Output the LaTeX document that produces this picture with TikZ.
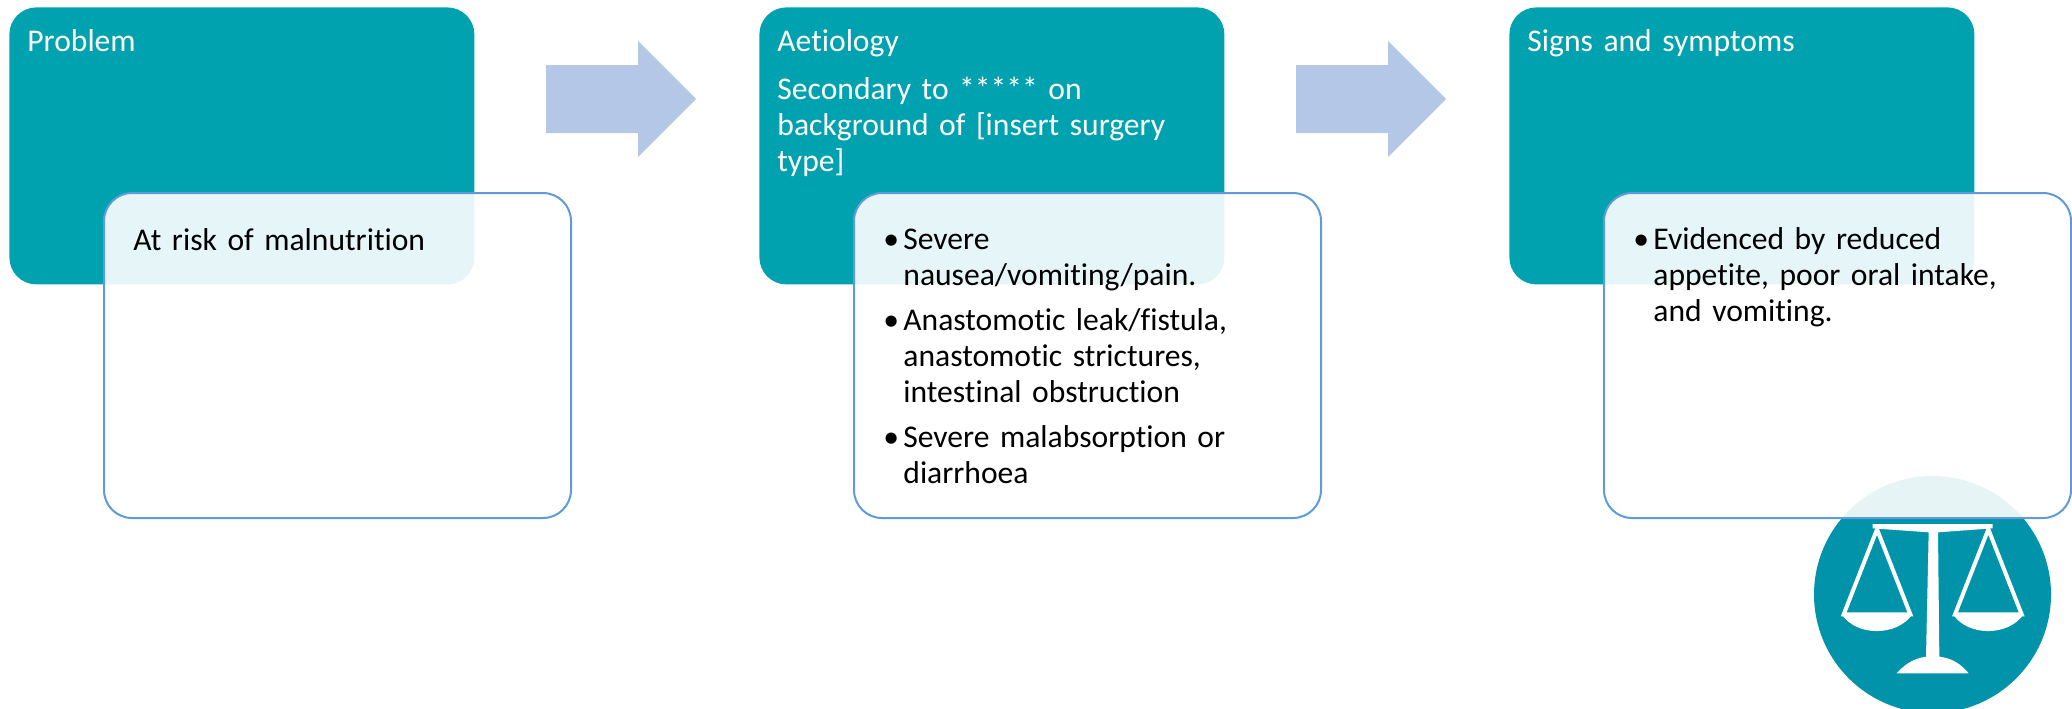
\documentclass[tikz,border=0pt]{standalone}
\usepackage{fontspec}
\setmainfont[Ligatures=NoCommon]{Carlito}
\definecolor{tealbox}{HTML}{01A2AF}
\definecolor{arrowblue}{HTML}{B4C7E7}
\definecolor{edgeblue}{HTML}{5F9BD8}
\definecolor{badge}{HTML}{0093A9}
\newlength{\hangw}\setlength{\hangw}{10pt}
\newcommand{\bul}[1]{\par\noindent\hbox to \hangw{•\hfil}\parbox[t]{185pt}{\raggedright\strut #1\strut}\par}
\tikzset{
  x=0.5pt,y=-0.5pt,
  headbox/.style={anchor=north west,fill=tealbox,rounded corners=13.5pt,minimum width=232.5pt,minimum height=138.5pt,inner sep=0pt},
  bodybox/.style={anchor=north west,draw=edgeblue,line width=1pt,fill=white,fill opacity=0.9,rounded corners=14pt,minimum width=233.5pt,minimum height=162.5pt,inner sep=0pt},
  blockarrow/.style={fill=arrowblue},
  headtext/.style={anchor=north west,text=white,font=\fontsize{15.8pt}{18pt}\selectfont,align=left,inner sep=0pt,text width=215pt},
  bodytext/.style={anchor=north west,text=black,font=\fontsize{15.8pt}{18pt}\selectfont,align=left,inner sep=0pt,text width=200pt},
  iconline/.style={draw=white,line width=2pt,line join=miter},
  iconfill/.style={fill=white}
}
\begin{document}
\begin{tikzpicture}
\useasboundingbox (0,0) rectangle (2072,708);
\clip (0,0) rectangle (2072,708);
% head boxes
\node[headbox] (h1) at (9,7) {};
\node[headbox] (h2) at (759,7) {};
\node[headbox] (h3) at (1509,7) {};
% arrows
\fill[blockarrow] (546,65) -- (638,65) -- (638,41) -- (696,99) -- (638,157) -- (638,133) -- (546,133) -- cycle;
\fill[blockarrow] (1296,65) -- (1388,65) -- (1388,41) -- (1446,99) -- (1388,157) -- (1388,133) -- (1296,133) -- cycle;
% badge
\fill[badge] (1932.5,594.5) circle[radius=59.25pt];
\begin{scope}[shift={(1780,440)},scale=1/3]
  \fill[iconfill] (278,252) -- (638,252) -- (638,265) -- (474,277) -- (478,650) .. controls (520,655) and (545,675) .. (566,700) -- (350,700) .. controls (372,675) and (400,655) .. (438,650) -- (446,277) -- (278,265) -- cycle;
  \draw[iconline] (291,268) -- (191,523) -- (391,523) -- cycle;
  \draw[iconline] (625,268) -- (525,523) -- (725,523) -- cycle;
  \fill[iconfill] (185,523) .. controls (230,590) and (350,590) .. (397,523) -- cycle;
  \fill[iconfill] (519,523) .. controls (564,590) and (684,590) .. (731,523) -- cycle;
\end{scope}
% body boxes
\node[bodybox] (b1) at (103,192) {};
\node[bodybox] (b2) at (853,192) {};
\node[bodybox] (b3) at (1603,192) {};
% texts
\node[headtext] (t1) at (27,29) {Problem};
\node[headtext] (t2) at (777,29) {Aetiology\par\vspace{6pt}Secondary to ***** on\\background of [insert surgery\\type]};
\node[headtext] (t3) at (1527,29) {Signs and symptoms};
\node[bodytext] (x1) at (133,228) {At risk of malnutrition};
\node[bodytext] (x2) at (883,213) {\bul{Severe\\nausea/vomiting/pain.}\vspace{3.4pt}\bul{Anastomotic leak/fistula,\\anastomotic strictures,\\intestinal obstruction}\vspace{3.4pt}\bul{Severe malabsorption or\\diarrhoea}};
\node[bodytext] (x3) at (1633,213) {\bul{Evidenced by reduced\\appetite, poor oral intake,\\and vomiting.}};
\end{tikzpicture}
\end{document}
